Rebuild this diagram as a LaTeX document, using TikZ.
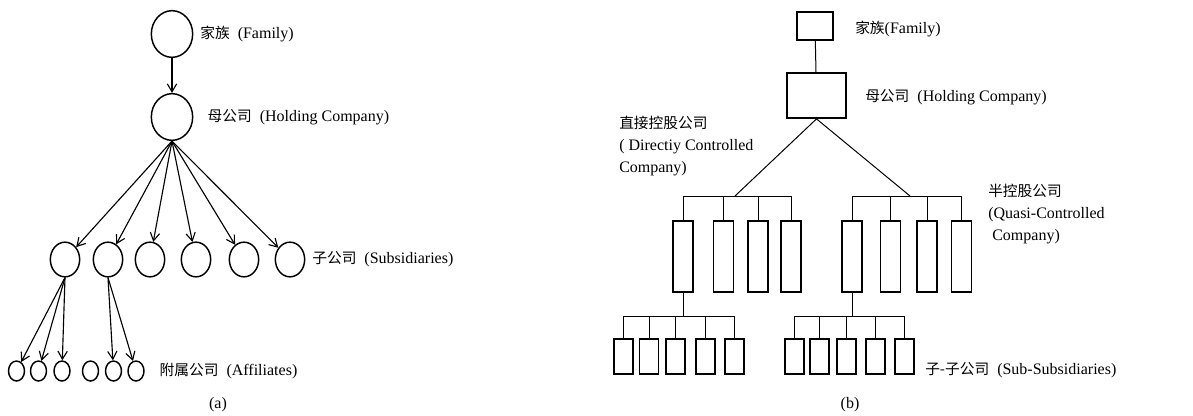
\documentclass[tikz,border=0pt]{standalone}
\usepackage{fontspec}
\setmainfont{Liberation Serif}
\newfontfamily\cjk[Scale=0.92]{Noto Sans CJK SC}
\usetikzlibrary{shapes.geometric,arrows.meta,positioning,calc}

\tikzset{
  bigcirc/.style={draw, ellipse, line width=1.1pt, inner sep=0pt, minimum width=31pt, minimum height=35pt},
  subcirc/.style={draw, ellipse, line width=1.1pt, inner sep=0pt, minimum width=22pt, minimum height=26pt},
  affcirc/.style={draw, ellipse, line width=1.1pt, inner sep=0pt, minimum width=12pt, minimum height=15pt},
  famrect/.style={draw, line width=1.1pt, inner sep=0pt, minimum width=27pt, minimum height=21pt},
  holdrect/.style={draw, line width=1.1pt, inner sep=0pt, minimum width=44pt, minimum height=34pt},
  subrect/.style={draw, line width=1.1pt, inner sep=0pt, minimum width=15pt, minimum height=53pt},
  subsubrect/.style={draw, line width=1.1pt, inner sep=0pt, minimum width=14.5pt, minimum height=26pt},
  arr/.style={-{Straight Barb[length=6pt,width=7pt]}, line width=0.85pt},
  link/.style={line width=0.75pt},
  lbl/.style={inner sep=0pt, font=\fontsize{12}{16.5}\selectfont}
}

\begin{document}
\begin{tikzpicture}[x=0.75pt, y=-0.75pt]
  \useasboundingbox (0,0) rectangle (1193,415);

  % (a) family tree of circles
  \node[bigcirc] (fam) at (172,34) {};
  \node[bigcirc] (hold) at (172,117) {};
  \foreach \x [count=\i] in {65,108,150,196,244,290}
    \node[subcirc] (s\i) at (\x,259.5) {};
  \foreach \x [count=\i] in {16.5,38.5,62,90.5,113.5,136}
    \node[affcirc] (f\i) at (\x,371) {};

  \node[lbl, right=5pt of fam] (famlbl) {{\cjk 家族}\ \ (Family)};
  \node[lbl, right=10.5pt of hold] (holdlbl) {{\cjk 母公司}\ \ (Holding Company)};
  \node[lbl, right=5pt of s6] (sublbl) {{\cjk 子公司}\ \ (Subsidiaries)};
  \node[lbl, right=11pt of f6] (afflbl) {{\cjk 附属公司}\ \ (Affiliates)};

  \draw[arr] (fam) -- (hold);
  \foreach \i in {1,...,6}
    \draw[arr] (hold.south) -- (s\i);
  \foreach \i in {1,2,3}
    \draw[arr] (s1.south) -- (f\i);
  \foreach \i in {5,6}
    \draw[arr] (s2.south) -- (f\i);

  \node[lbl] (capa) at (218,405) {(a)};

  % (b) family tree of boxes
  \node[famrect] (bfam) at (815,26) {};
  \node[holdrect] (bhold) at (816.5,95.5) {};
  \foreach \x [count=\i] in {683,723.5,758,791}
    \node[subrect] (d\i) at (\x,256.5) {};
  \foreach \x [count=\i] in {852,890.5,927,961.5}
    \node[subrect] (q\i) at (\x,256.5) {};
  \foreach \x [count=\i] in {623.5,649,675.5,705.5,734.5}
    \node[subsubrect] (a\i) at (\x,356.5) {};
  \foreach \x [count=\i] in {794.5,819.5,846.5,875.5,904.5}
    \node[subsubrect] (b\i) at (\x,356.5) {};

  \coordinate (lfork) at (735,196);
  \coordinate (rfork) at (910,196);
  \coordinate (subfork) at (0,316);

  \draw[link] (bfam) -- (bhold);
  \draw[link] (bhold.south) -- (lfork);
  \draw[link] (bhold.south) -- (rfork);
  \draw[link] (d1.north |- lfork) -- (d4.north |- lfork);
  \draw[link] (q1.north |- rfork) -- (q4.north |- rfork);
  \foreach \i in {1,...,4} {
    \draw[link] (d\i.north) -- (d\i.north |- lfork);
    \draw[link] (q\i.north) -- (q\i.north |- rfork);
  }
  \draw[link] (d1.south) -- (d1.south |- subfork);
  \draw[link] (q1.south) -- (q1.south |- subfork);
  \draw[link] (a1.north |- subfork) -- (a5.north |- subfork);
  \draw[link] (b1.north |- subfork) -- (b5.north |- subfork);
  \foreach \i in {1,...,5} {
    \draw[link] (a\i.north) -- (a\i.north |- subfork);
    \draw[link] (b\i.north) -- (b\i.north |- subfork);
  }

  \node[lbl, anchor=west] (bfamlbl) at (855,29) {{\cjk 家族}(Family)};
  \node[lbl, anchor=west] (bholdlbl) at (865,97) {{\cjk 母公司}\ \ (Holding Company)};
  \node[lbl, anchor=west, align=left] (directlbl) at (619,146) {{\cjk 直接控股公司}\\( Directiy Controlled\\Company)};
  \node[lbl, anchor=west, align=left] (quasilbl) at (988,214) {{\cjk 半控股公司}\\(Quasi-Controlled\\\ Company)};
  \node[lbl, anchor=west] (sslbl) at (925,370) {{\cjk 子-子公司}\ \ (Sub-Subsidiaries)};

  \node[lbl] (capb) at (850,405) {(b)};
\end{tikzpicture}
\end{document}
